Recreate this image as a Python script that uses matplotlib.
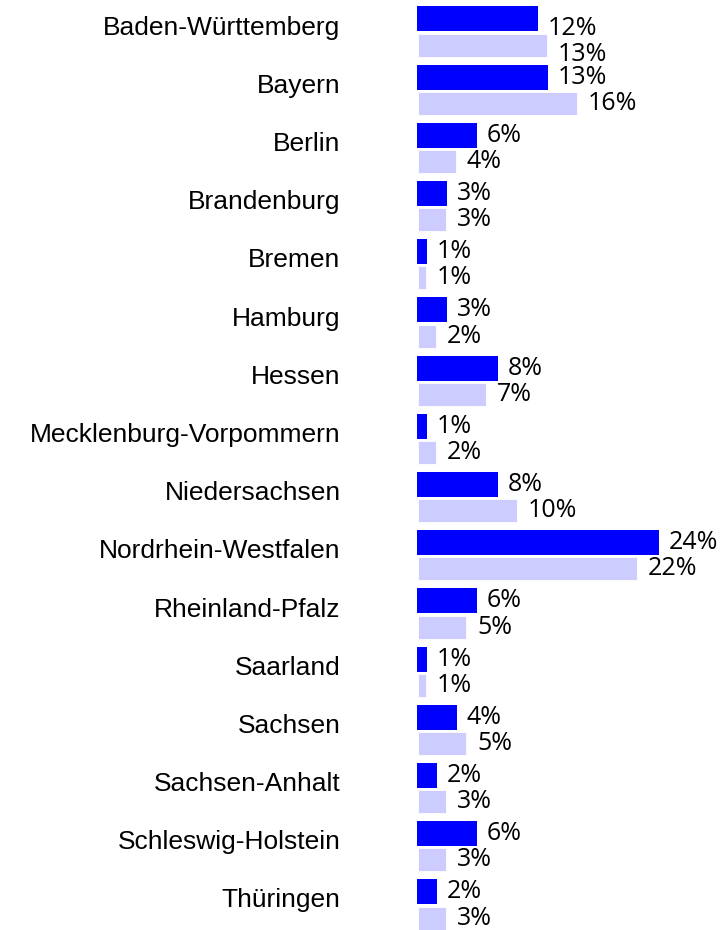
import numpy as np
import matplotlib
matplotlib.use('Agg')
import matplotlib.pyplot as plt

# Anteile je Bundesland (%)
states = ['Baden-Württemberg', 'Bayern', 'Berlin', 'Brandenburg', 'Bremen',
          'Hamburg', 'Hessen', 'Mecklenburg-Vorpommern', 'Niedersachsen',
          'Nordrhein-Westfalen', 'Rheinland-Pfalz', 'Saarland', 'Sachsen',
          'Sachsen-Anhalt', 'Schleswig-Holstein', 'Thüringen']
series_a = [12, 13, 6, 3, 1, 3, 8, 1, 8, 24, 6, 1, 4, 2, 6, 2]
series_b = [13, 16, 4, 3, 1, 2, 7, 2, 10, 22, 5, 1, 5, 3, 3, 3]

dark = '#0000FF'
light = '#CCCCFF'

fig = plt.figure(figsize=(7.23, 9.30), dpi=100)
ax = fig.add_axes([417 / 723, 0, 302 / 723, 1])

idx = np.arange(len(states))
h = 0.43
off = 0.225

r2 = ax.barh(idx + off, series_b, h, color=light, edgecolor='white',
             linewidth=2, zorder=2)
r1 = ax.barh(idx - off, series_a, h, color=dark, linewidth=0, zorder=3)

ax.set_xlim(0, 30)
ax.set_ylim(15.43, -0.55)

ax.set_yticks(idx - 0.12)
ax.set_yticklabels(states, fontsize=19, family='Liberation Sans')
ax.tick_params(axis='y', length=0, pad=55)
ax.tick_params(axis='x', bottom=False, labelbottom=False)
for s in ax.spines.values():
    s.set_visible(False)

for rects, vals in ((r1, series_a), (r2, series_b)):
    anns = ax.bar_label(rects, labels=['{}%'.format(v) for v in vals],
                        padding=7, fontsize=18, family='Open Sans')
    # erste Zeile sitzt im Original etwas tiefer
    anns[0].xyann = (7, -7)

fig.savefig('out.png', dpi=100)
plt.close('all')
